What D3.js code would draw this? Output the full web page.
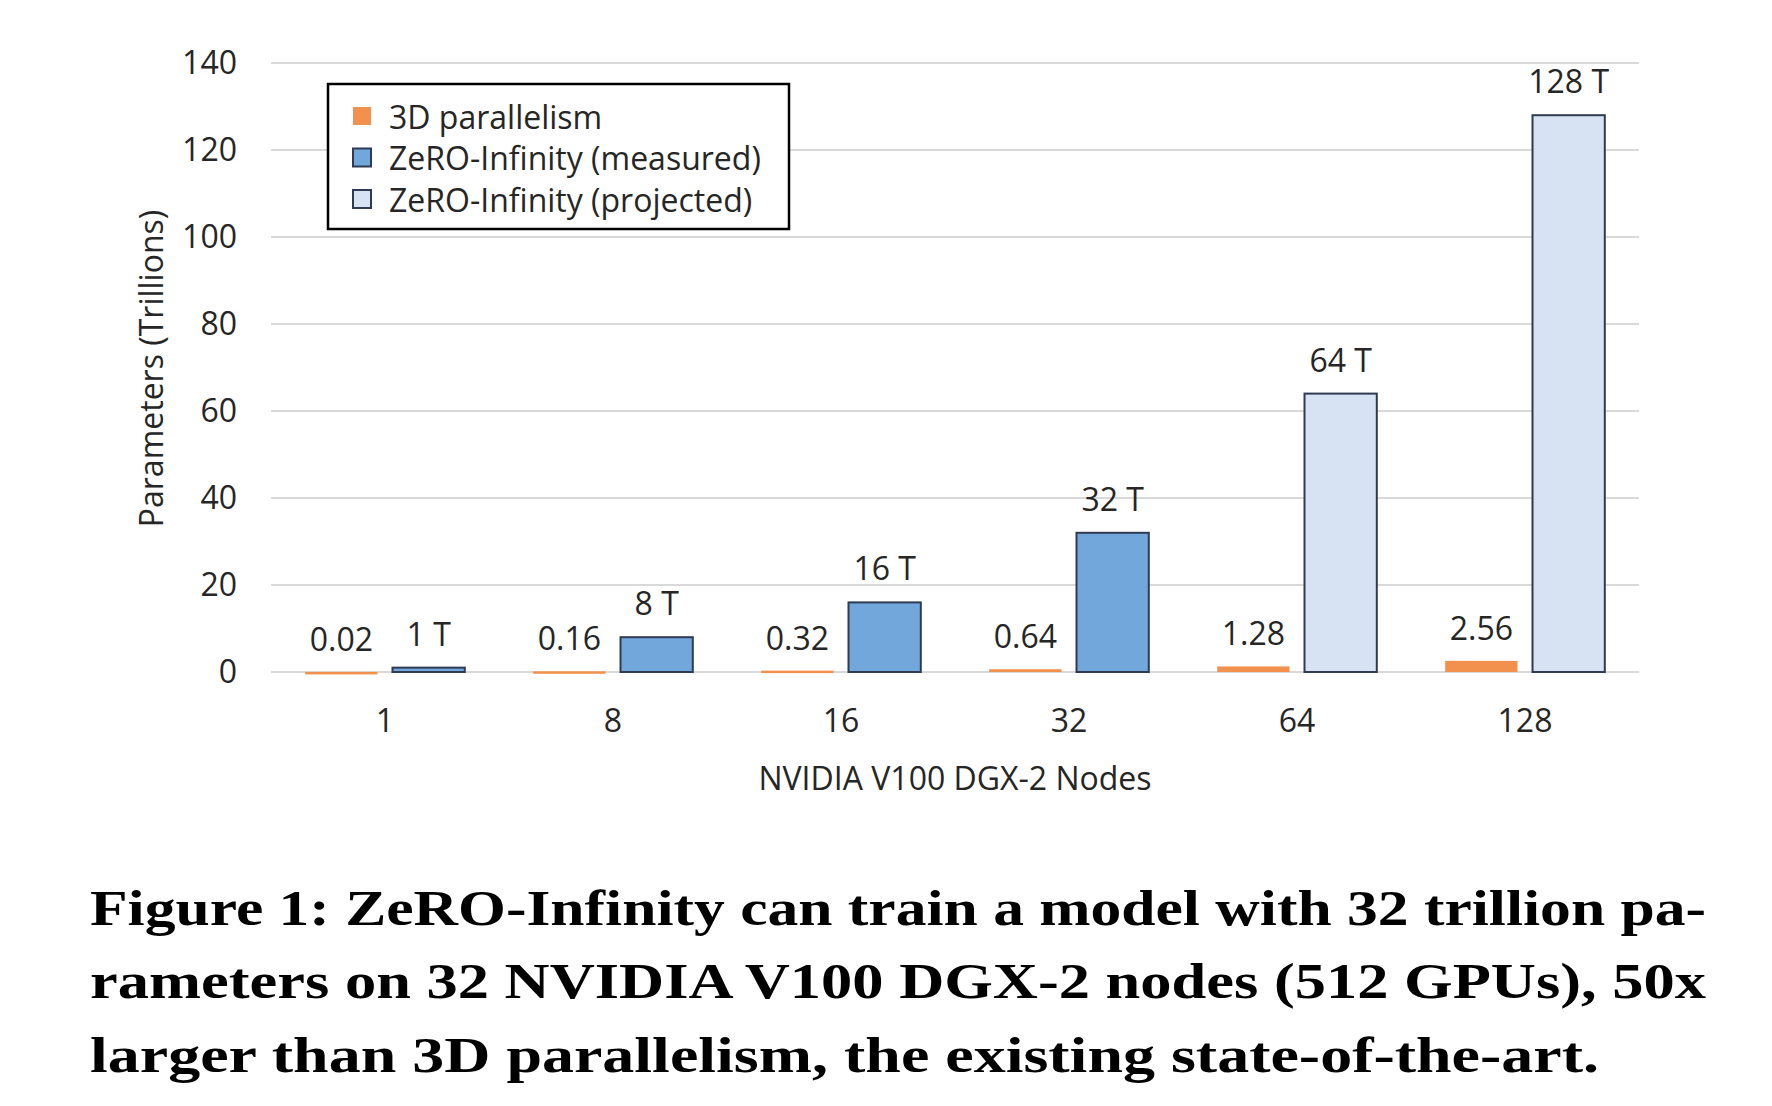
<!DOCTYPE html>
<html>
<head>
<meta charset="utf-8">
<script src="https://cdn.jsdelivr.net/npm/d3@7"></script>
<style>
  html, body { margin: 0; padding: 0; background: #fff; }
  svg { display: block; }
</style>
</head>
<body>
<svg id="chart" width="1772" height="1106"></svg>
<script>
// ---- data ----
const categories = ["1", "8", "16", "32", "64", "128"];
const parallelism3D = [0.02, 0.16, 0.32, 0.64, 1.28, 2.56];
const zeroInfinity = [1, 8, 16, 32, 64, 128];
const zeroKind = ["measured", "measured", "measured", "measured", "projected", "projected"];
const zeroLabels = ["1 T", "8 T", "16 T", "32 T", "64 T", "128 T"];
const parallelLabels = ["0.02", "0.16", "0.32", "0.64", "1.28", "2.56"];
const yTicks = [0, 20, 40, 60, 80, 100, 120, 140];
const legendItems = [
  { key: "p3d", label: "3D parallelism" },
  { key: "measured", label: "ZeRO-Infinity (measured)" },
  { key: "projected", label: "ZeRO-Infinity (projected)" }
];
const captionLines = [
  "Figure 1: ZeRO-Infinity can train a model with 32 trillion pa-",
  "rameters on 32 NVIDIA V100 DGX-2 nodes (512 GPUs), 50x",
  "larger than 3D parallelism, the existing state-of-the-art."
];

// ---- styles ----
const fill = { p3d: "#F2914D", measured: "#71A7DA", projected: "#D7E2F3" };
const stroke = { p3d: "#F2914D", measured: "#2E3B52", projected: "#2E3B52" };
const uiFont = "'Open Sans', 'Noto Sans', sans-serif";
const fs = 32;

const svg = d3.select("#chart");
svg.append("rect").attr("width", 1772).attr("height", 1106).attr("fill", "#fff");

const plot = { left: 271, right: 1639, top: 63, bottom: 672 };

const x0 = d3.scaleBand().domain(categories).range([plot.left, plot.right]).paddingInner(0.30).paddingOuter(0.15);
const x1 = d3.scaleBand().domain(["p3d", "zero"]).range([0, x0.bandwidth()]).paddingInner(0.172);
const y = d3.scaleLinear().domain([0, 140]).range([plot.bottom, plot.top]);

// gridlines
svg.append("g").selectAll("line").data(yTicks).join("line")
  .attr("x1", plot.left).attr("x2", plot.right)
  .attr("y1", d => y(d)).attr("y2", d => y(d))
  .attr("stroke", "#D9D9D9").attr("stroke-width", 2);

// y axis labels
const yAxis = d3.axisLeft(y).tickValues(yTicks).tickSize(0).tickPadding(0);
const yg = svg.append("g").attr("transform", `translate(${plot.left - 34},0)`).call(yAxis);
yg.select(".domain").remove();
yg.selectAll("text").attr("font-family", uiFont).attr("font-size", fs).attr("fill", "#262626");

// x axis labels
const xAxis = d3.axisBottom(x0).tickSize(0).tickPadding(0);
const xg = svg.append("g").attr("transform", `translate(0,${plot.bottom + 37})`).call(xAxis);
xg.select(".domain").remove();
xg.selectAll("text").attr("font-family", uiFont).attr("font-size", fs).attr("fill", "#262626");

// bars
const groups = svg.append("g").selectAll("g").data(categories).join("g")
  .attr("transform", d => `translate(${x0(d)},0)`);

groups.append("rect")
  .attr("x", x1("p3d")).attr("width", x1.bandwidth())
  .attr("y", (d, i) => y(parallelism3D[i]))
  .attr("height", (d, i) => Math.max(2.5, y(0) - y(parallelism3D[i])))
  .attr("fill", fill.p3d);

groups.append("rect")
  .attr("x", x1("zero")).attr("width", x1.bandwidth())
  .attr("y", (d, i) => y(zeroInfinity[i]))
  .attr("height", (d, i) => y(0) - y(zeroInfinity[i]))
  .attr("fill", (d, i) => fill[zeroKind[i]])
  .attr("stroke", (d, i) => stroke[zeroKind[i]])
  .attr("stroke-width", 2);

// value labels
groups.append("text")
  .attr("x", x1("p3d") + x1.bandwidth() / 2)
  .attr("y", (d, i) => y(parallelism3D[i]) - 21)
  .attr("text-anchor", "middle")
  .attr("font-family", uiFont).attr("font-size", fs).attr("fill", "#262626")
  .text((d, i) => parallelLabels[i]);

groups.append("text")
  .attr("x", x1("zero") + x1.bandwidth() / 2)
  .attr("y", (d, i) => y(zeroInfinity[i]) - 22)
  .attr("text-anchor", "middle")
  .attr("font-family", uiFont).attr("font-size", fs).attr("fill", "#262626")
  .text((d, i) => zeroLabels[i]);

// axis titles
svg.append("text")
  .attr("transform", `translate(150,${(plot.top + plot.bottom) / 2 + 1}) rotate(-90)`)
  .attr("text-anchor", "middle").attr("dominant-baseline", "central")
  .attr("font-family", uiFont).attr("font-size", fs).attr("fill", "#262626")
  .text("Parameters (Trillions)");

svg.append("text")
  .attr("x", 955).attr("y", 777)
  .attr("text-anchor", "middle").attr("dominant-baseline", "central")
  .attr("font-family", uiFont).attr("font-size", fs).attr("fill", "#262626")
  .text("NVIDIA V100 DGX-2 Nodes");

// legend
const lg = svg.append("g");
lg.append("rect").attr("x", 328).attr("y", 84).attr("width", 461).attr("height", 145)
  .attr("fill", "#fff").attr("stroke", "#000").attr("stroke-width", 2.5);
const ly = d3.scalePoint().domain(legendItems.map(d => d.key)).range([116, 199]);
const li = lg.selectAll("g.item").data(legendItems).join("g").attr("class", "item")
  .attr("transform", d => `translate(0,${ly(d.key)})`);
li.append("rect").attr("x", 353).attr("y", -9).attr("width", 18).attr("height", 18)
  .attr("fill", d => fill[d.key])
  .attr("stroke", d => d.key === "p3d" ? "none" : stroke[d.key]).attr("stroke-width", 2);
li.append("text").attr("x", 389).attr("y", 0).attr("dominant-baseline", "central")
  .attr("font-family", uiFont).attr("font-size", fs).attr("fill", "#262626")
  .text(d => d.label);

// caption
const cap = svg.append("g");
const capY = [925, 998, 1072];
const capW = [1616, 1616, 1509];
captionLines.forEach((t, i) => {
  cap.append("text").attr("x", 90).attr("y", capY[i])
    .attr("font-family", "'Liberation Serif', 'DejaVu Serif', serif")
    .attr("font-weight", "bold").attr("font-size", 51).attr("fill", "#000")
    .attr("textLength", capW[i]).attr("lengthAdjust", "spacingAndGlyphs")
    .text(t);
});
</script>
</body>
</html>
